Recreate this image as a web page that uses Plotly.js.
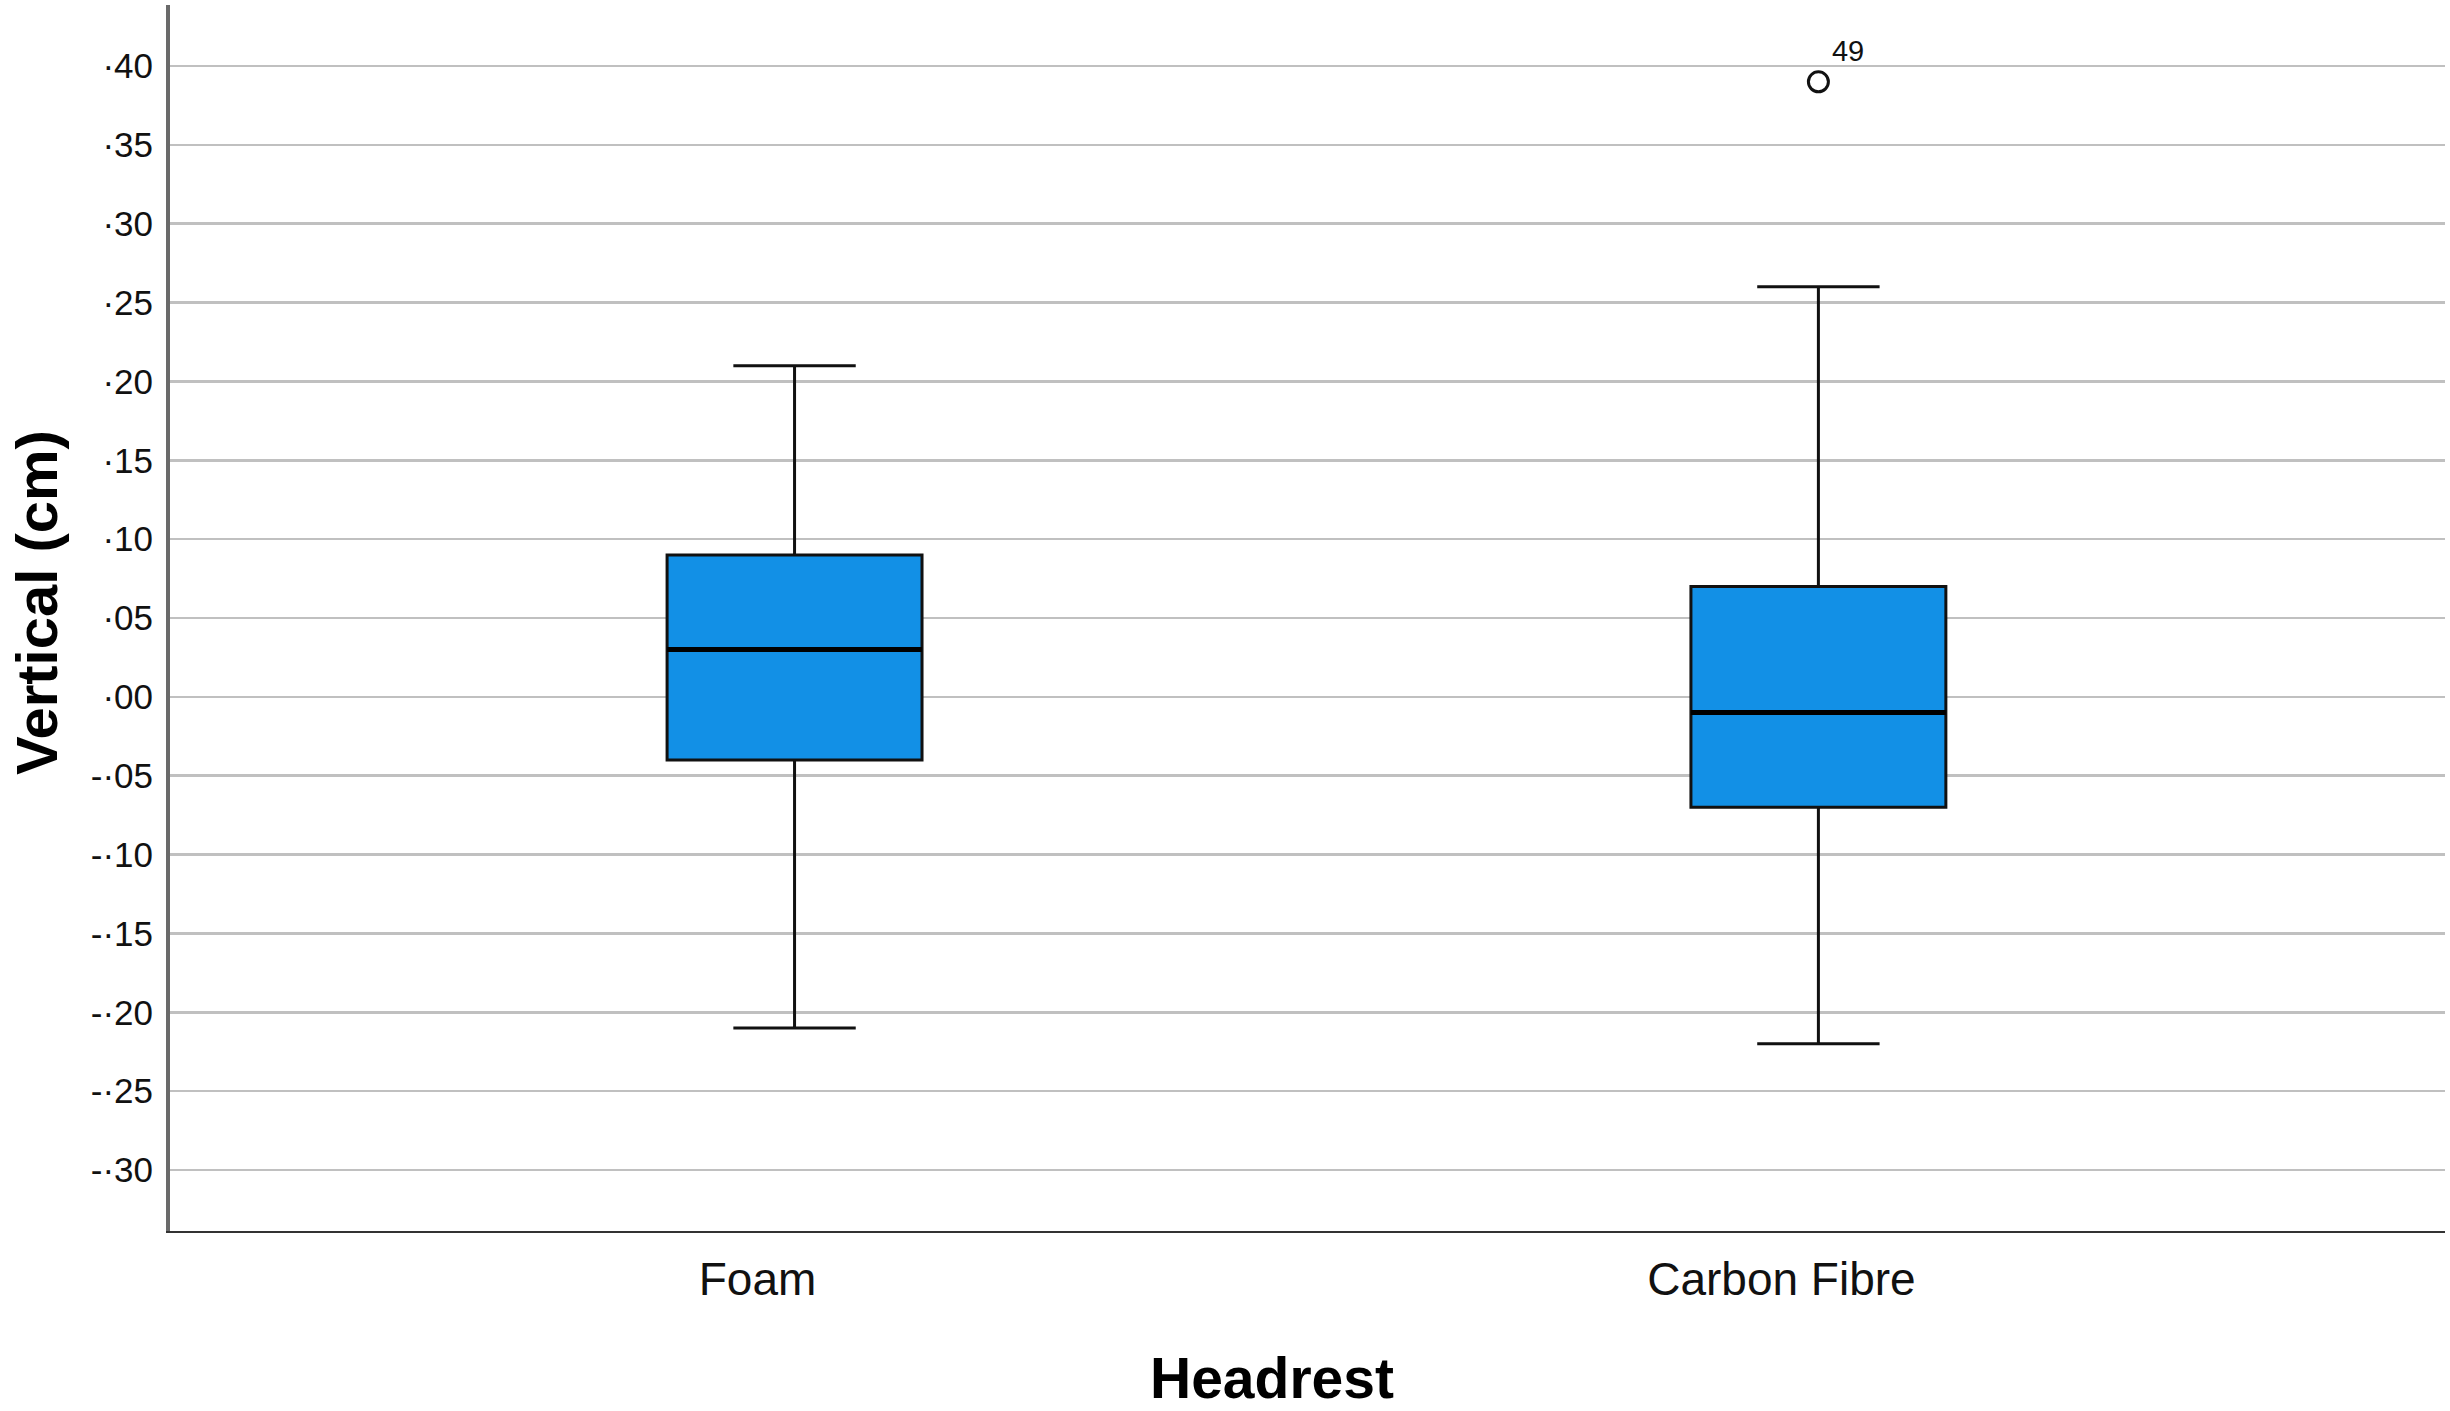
<!DOCTYPE html>
<html>
<head>
<meta charset="utf-8">
<script src="https://cdn.plot.ly/plotly-3.0.1.min.js"></script>
<style>html,body{margin:0;padding:0;background:#fff;}#chart{width:2450px;height:1411px;}</style>
</head>
<body>
<div id="chart"></div>
<script>
// Categories and box statistics (Vertical, cm)
const categories = ['Foam', 'Carbon Fibre'];
const lowerWhisker = [-0.21, -0.22];
const q1Values = [-0.04, -0.07];
const medianValues = [0.03, -0.01];
const q3Values = [0.09, 0.07];
const upperWhisker = [0.21, 0.26];

// Outliers
const outlierCategory = ['Carbon Fibre'];
const outlierValues = [0.39];
const outlierLabels = ['49'];

// Y tick values and labels (SPSS style)
const yTickValues = [-0.30, -0.25, -0.20, -0.15, -0.10, -0.05, 0.00, 0.05, 0.10, 0.15, 0.20, 0.25, 0.30, 0.35, 0.40];
const yTickLabels = ['-·30', '-·25', '-·20', '-·15', '-·10', '-·05', '·00', '·05', '·10', '·15', '·20', '·25', '·30', '·35', '·40'];

const xTitle = 'Headrest';
const yTitle = 'Vertical (cm)';

const BOX_WIDTH = 0.249;
const FONT = 'Liberation Sans, Arial, sans-serif';

const boxTrace = {
  type: 'box',
  x: categories,
  q1: q1Values,
  median: medianValues,
  q3: q3Values,
  lowerfence: lowerWhisker,
  upperfence: upperWhisker,
  width: BOX_WIDTH,
  whiskerwidth: 0.48,
  fillcolor: '#1290e6',
  line: { color: '#111111', width: 3 },
  boxpoints: false,
  showlegend: false,
  hoverinfo: 'skip'
};

const outlierTrace = {
  type: 'scatter',
  mode: 'markers+text',
  x: outlierCategory,
  y: outlierValues,
  text: outlierLabels,
  textposition: 'top right',
  textfont: { family: FONT, size: 29, color: '#111' },
  marker: { symbol: 'circle-open', size: 20, color: '#111', line: { width: 3, color: '#111' } },
  showlegend: false,
  hoverinfo: 'skip',
  cliponaxis: false
};

// thicker median lines, placed on the category axis from the data arrays
const medianShapes = categories.map((c, i) => ({
  type: 'line', xref: 'x', yref: 'y',
  x0: i - BOX_WIDTH / 2, x1: i + BOX_WIDTH / 2,
  y0: medianValues[i], y1: medianValues[i],
  line: { color: '#000', width: 5 }
}));

const layout = {
  width: 2450,
  height: 1411,
  margin: { l: 170, r: 5, t: 5, b: 180 },
  paper_bgcolor: '#ffffff',
  plot_bgcolor: '#ffffff',
  font: { family: FONT, color: '#111' },
  showlegend: false,
  shapes: medianShapes,
  xaxis: {
    type: 'category',
    range: [-0.61, 1.612],
    showgrid: false,
    zeroline: false,
    showline: true,
    linecolor: '#333333',
    linewidth: 2,
    ticks: '',
    ticklabelshift: -37,
    ticklabelstandoff: 7,
    tickfont: { size: 46, color: '#111' }
  },
  yaxis: {
    range: [-0.3387, 0.4387],
    tickmode: 'array',
    tickvals: yTickValues,
    ticktext: yTickLabels,
    showgrid: true,
    gridcolor: '#c0c0c0',
    gridwidth: 2.5,
    zeroline: false,
    showline: true,
    linecolor: '#6a6a6a',
    linewidth: 4,
    ticks: '',
    ticklabelstandoff: 6,
    tickfont: { size: 35, color: '#111' }
  },
  annotations: [
    {
      text: '<b>' + xTitle + '</b>', xref: 'paper', yref: 'paper',
      x: 0.4844, y: -0.1199, xanchor: 'center', yanchor: 'middle',
      showarrow: false, font: { family: FONT, size: 57, color: '#000' }
    },
    {
      text: '<b>' + yTitle + '</b>', xref: 'paper', yref: 'paper',
      x: -0.0589, y: 0.5122, xanchor: 'center', yanchor: 'middle', textangle: -90,
      showarrow: false, font: { family: FONT, size: 58, color: '#000' }
    }
  ]
};

Plotly.newPlot('chart', [boxTrace, outlierTrace], layout, { displayModeBar: false, staticPlot: true });
</script>
</body>
</html>
